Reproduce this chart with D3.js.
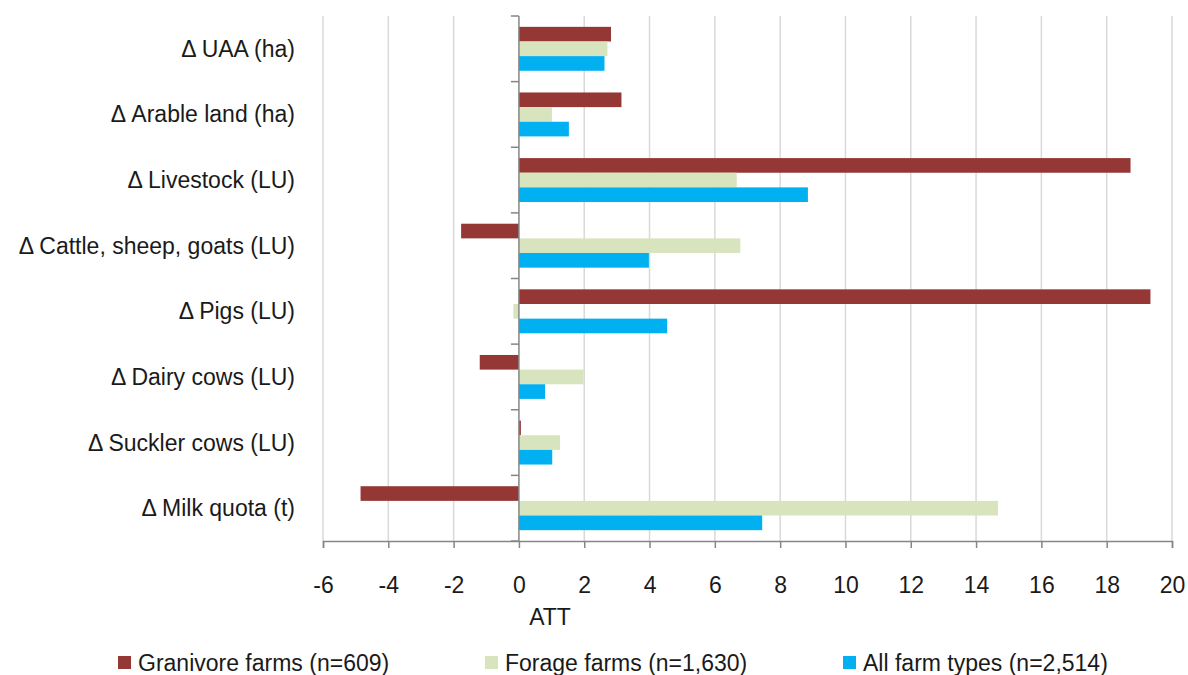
<!DOCTYPE html>
<html>
<head>
<meta charset="utf-8">
<script src="https://cdn.jsdelivr.net/npm/d3@7"></script>
<style>
  body { margin: 0; background: #fff; }
  text { font-family: "Liberation Sans", Arial, sans-serif; fill: #1a1a1a; }
</style>
</head>
<body>
<script>
// categories (top to bottom) and series
const categories = ['\u0394 UAA (ha)', '\u0394 Arable land (ha)', '\u0394 Livestock (LU)',
  '\u0394 Cattle, sheep, goats (LU)', '\u0394 Pigs (LU)', '\u0394 Dairy cows (LU)',
  '\u0394 Suckler cows (LU)', '\u0394 Milk quota (t)'];
const seriesNames = ['Granivore farms (n=609)', 'Forage farms (n=1,630)', 'All farm types (n=2,514)'];
const granivore = [2.82, 3.14, 18.73, -1.77, 19.34, -1.2, 0.06, -4.85];
const forage = [2.71, 1.01, 6.67, 6.78, -0.17, 1.98, 1.26, 14.67];
const allFarms = [2.62, 1.53, 8.85, 3.98, 4.54, 0.80, 1.02, 7.45];
const xTicks = d3.range(-6, 21, 2);
const colors = ['#953735', '#d7e4bd', '#00b0f0'];

const width = 1188, height = 675;
const plotLeft = 323, plotRight = 1172, plotTop = 16, plotBottom = 541;
const fontSize = '23px';

const svg = d3.select('body').append('svg')
  .attr('width', width).attr('height', height);

const x = d3.scaleLinear().domain([-6, 20]).range([plotLeft, plotRight]);
const y0 = d3.scaleBand().domain(categories).range([plotTop, plotBottom]);
const y1 = d3.scaleBand().domain(seriesNames).range([0, y0.bandwidth()])
  .paddingInner(0).paddingOuter(0.74);

// gridlines
svg.append('g').selectAll('line')
  .data(xTicks.filter(d => d !== 0))
  .enter().append('line')
  .attr('x1', d => x(d)).attr('x2', d => x(d))
  .attr('y1', plotTop).attr('y2', plotBottom)
  .attr('stroke', '#d9d9d9').attr('stroke-width', 1.5);

// bars
const rows = categories.map((c, i) => ({ cat: c, vals: [granivore[i], forage[i], allFarms[i]] }));
const group = svg.append('g').selectAll('g')
  .data(rows).enter().append('g')
  .attr('transform', d => `translate(0,${y0(d.cat)})`);
group.selectAll('rect')
  .data(d => d.vals.map((v, k) => ({ v, k })))
  .enter().append('rect')
  .attr('x', d => x(Math.min(0, d.v)))
  .attr('width', d => Math.abs(x(d.v) - x(0)))
  .attr('y', d => y1(seriesNames[d.k]))
  .attr('height', y1.bandwidth())
  .attr('fill', d => colors[d.k]);

// x axis
const xAxis = svg.append('g')
  .attr('transform', `translate(0,${plotBottom})`)
  .call(d3.axisBottom(x).tickValues(xTicks).tickSize(7).tickPadding(29).tickFormat(d3.format('d')));
xAxis.select('.domain').attr('stroke', '#868686').attr('stroke-width', 1.5);
xAxis.selectAll('.tick line').attr('stroke', '#868686').attr('stroke-width', 1.5);
xAxis.selectAll('.tick text').style('font-size', fontSize).attr('fill', '#1a1a1a')
  .text(d => d < 0 ? '-' + Math.abs(d) : d);

// y axis at zero
const yAxis = svg.append('g')
  .attr('transform', `translate(${x(0)},0)`);
yAxis.append('line')
  .attr('y1', plotTop).attr('y2', plotBottom)
  .attr('stroke', '#868686').attr('stroke-width', 1.5);
yAxis.selectAll('.cat-tick')
  .data(categories.map(c => y0(c)).concat([plotBottom]))
  .enter().append('line')
  .attr('x1', -8).attr('x2', 0)
  .attr('y1', d => d).attr('y2', d => d)
  .attr('stroke', '#868686').attr('stroke-width', 1.5);

// category labels
svg.append('g').selectAll('text')
  .data(categories).enter().append('text')
  .attr('x', 295)
  .attr('y', d => y0(d) + y0.bandwidth() / 2)
  .attr('dy', '0.35em')
  .attr('text-anchor', 'end')
  .style('font-size', fontSize)
  .text(d => d);

// axis title
svg.append('text')
  .attr('x', 550).attr('y', 617)
  .attr('dy', '0.35em')
  .attr('text-anchor', 'middle')
  .style('font-size', fontSize)
  .text('ATT');

// legend
const legendX = [118, 485, 843];
const legend = svg.append('g').selectAll('g')
  .data(seriesNames).enter().append('g')
  .attr('transform', (d, i) => `translate(${legendX[i]},656)`);
legend.append('rect')
  .attr('width', 13).attr('height', 13)
  .attr('fill', (d, i) => colors[i]);
legend.append('text')
  .attr('x', 20).attr('y', 7)
  .attr('dy', '0.35em')
  .style('font-size', fontSize)
  .text(d => d);
</script>
</body>
</html>
